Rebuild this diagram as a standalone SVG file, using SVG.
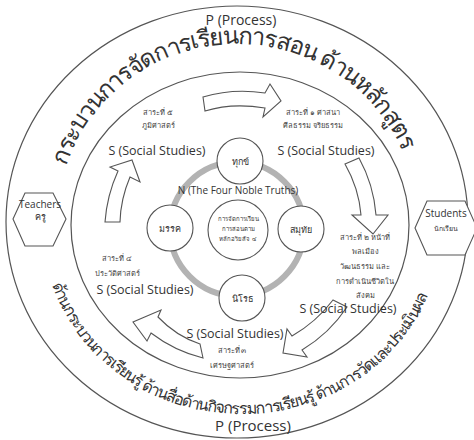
<svg xmlns="http://www.w3.org/2000/svg" width="474" height="440" viewBox="0 0 474 440">
<style>
.ln{fill:none;stroke:#555;stroke-width:1.2}
.nd{fill:#fff;stroke:#555;stroke-width:1.1}
.ar{fill:#fff;stroke:#555;stroke-width:1.1;stroke-linejoin:miter}
.ring{fill:none;stroke:#b3b3b3;stroke-width:6}
text{font-family:'Open Sans','Noto Sans','DejaVu Sans',sans-serif;fill:#333}
.ss{font-size:12.5px;text-anchor:middle}
.th{font-size:7.5px;text-anchor:middle;fill:#444}
.c{font-size:9px;text-anchor:middle}
.p{font-size:14px;text-anchor:middle}
</style>
<defs>
<path id="topArc" d="M63,175.1 A181,181 0 0 1 411,175.1"/>
<path id="botArc" d="M51.8,284.1 A200,188 0 0 0 436.1,271.5"/>
</defs>
<rect width="474" height="440" fill="#fff"/>
<g id="outer-ring">
<ellipse cx="237" cy="222" rx="231" ry="216" class="ln"/>
<text class="p" x="241" y="25">P (Process)</text>
<text class="p" x="253" y="431" style="font-size:15px">P (Process)</text>
<text style="font-size:24px"><textPath href="#topArc" startOffset="9.5" textLength="433" lengthAdjust="spacing">กระบวนการจัดการเรียนการสอน ด้านหลักสูตร</textPath></text>
<text style="font-size:16px"><textPath href="#botArc" startOffset="0" textLength="478" lengthAdjust="spacing">ด้านกระบวนการเรียนรู้ ด้านสื่อด้านกิจกรรมการเรียนรู้ ด้านการวัดและประเมินผล</textPath></text>
</g>
<g id="middle-ring">
<ellipse cx="240" cy="225" rx="169" ry="153" class="ln"/>
</g>
<g id="teachers">
<polygon class="nd" points="13,219 25,193 53,193 66,219 53,246 25,246"/>
<text x="40" y="208" style="font-size:10px;text-anchor:middle">Teachers</text>
<text x="40" y="220" style="font-size:9px;text-anchor:middle">ครู</text>
</g>
<g id="students">
<polygon class="nd" points="415,228 427,201 465,201 477,228 465,255 427,255"/>
<text x="446" y="217" style="font-size:10px;text-anchor:middle">Students</text>
<text x="446" y="231" style="font-size:7px;text-anchor:middle">นักเรียน</text>
</g>
<g id="connectors">
<circle class="ring" cx="237" cy="229" r="67"/>
<path class="ar" d="M203,97 Q233,88 265,93 L270,84 L281,101 L263,117 L265,108 Q232,102.5 205,111 Z"/>
<path class="ar" d="M345,164 L359,158 Q373.7,184.7 376,215 L388,215 L373,234 L352,215 L361,215 Q358.8,188.1 345,164 Z"/>
<path class="ar" d="M333,300 L347,307 Q329.7,333.3 302,350 L307,357 L283,353 L287,329 L292,336 Q316.3,322 333,300 Z"/>
<path class="ar" d="M203,358 L200,344 Q176,336 158,317 L161,310 L133,322 L147,341 L151,333 Q174.6,351 203,358 Z"/>
<path class="ar" d="M105,222 L120,222 Q120.6,199.1 130,177 L140,182 L132,160 L110,167 L118,171 Q106.9,195.5 105,222 Z"/>
</g>
<g id="social-1">
<text class="th" x="158" y="115">สาระที่ ๕</text>
<text class="th" x="158" y="128">ภูมิศาสตร์</text>
<text class="ss" x="157" y="155">S (Social Studies)</text>
</g>
<g id="social-2">
<text class="th" x="313" y="115">สาระที่ ๑ ศาสนา</text>
<text class="th" x="313" y="128">ศีลธรรม จริยธรรม</text>
<text class="ss" x="326" y="155">S (Social Studies)</text>
</g>
<g id="social-3">
<text class="th" x="365" y="240">สาระที่ ๒  หน้าที่</text>
<text class="th" x="365" y="254">พลเมือง</text>
<text class="th" x="365" y="269">วัฒนธรรม และ</text>
<text class="th" x="365" y="284">การดำเนินชีวิตใน</text>
<text class="th" x="365" y="298">สังคม</text>
<text class="ss" x="348" y="313">S (Social Studies)</text>
</g>
<g id="social-4">
<text class="ss" x="235" y="338">S (Social Studies)</text>
<text class="th" x="232" y="353">สาระที่ ๓</text>
<text class="th" x="232" y="368">เศรษฐศาสตร์</text>
</g>
<g id="social-5">
<text class="th" x="117" y="261">สาระที่ ๔</text>
<text class="th" x="117" y="276">ประวัติศาสตร์</text>
<text class="ss" x="145" y="294">S (Social Studies)</text>
</g>
<g id="noble-truths">
<text x="238" y="194" style="font-size:10px;text-anchor:middle">N (The Four Noble Truths)</text>
</g>
<g id="dukkha"><circle class="nd" cx="240" cy="161" r="23"/><text class="c" x="240" y="165">ทุกข์</text></g>
<g id="magga"><circle class="nd" cx="170" cy="228" r="23"/><text class="c" x="170" y="232">มรรค</text></g>
<g id="samudaya"><circle class="nd" cx="301" cy="229" r="23"/><text class="c" x="301" y="233">สมุทัย</text></g>
<g id="nirodha"><circle class="nd" cx="242" cy="298" r="23"/><text class="c" x="242" y="302">นิโรธ</text></g>
<g id="center">
<circle class="nd" cx="238" cy="230" r="30"/>
<text x="238" y="221" style="font-size:6px;text-anchor:middle">การจัดการเรียน</text>
<text x="238" y="231" style="font-size:6px;text-anchor:middle">การสอนตาม</text>
<text x="238" y="241" style="font-size:6px;text-anchor:middle">หลักอริยสัจ ๔</text>
</g>
</svg>
